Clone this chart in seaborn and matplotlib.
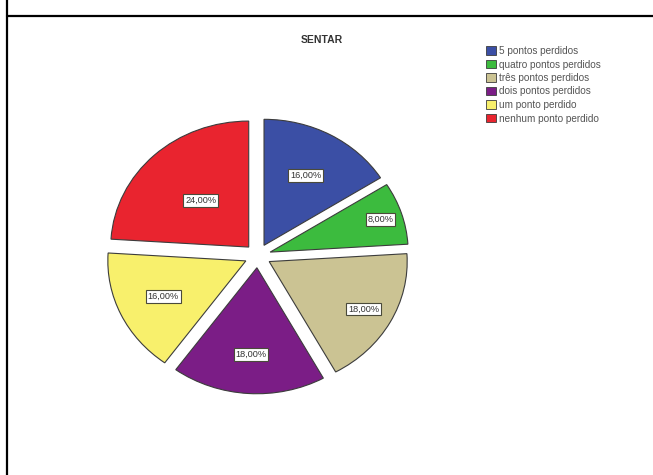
import matplotlib
matplotlib.use("Agg")
import matplotlib.pyplot as plt
import seaborn as sns
import numpy as np
from matplotlib.patches import Patch
from matplotlib.lines import Line2D

categories = ["5 pontos perdidos", "quatro pontos perdidos", "três pontos perdidos",
              "dois pontos perdidos", "um ponto perdido", "nenhum ponto perdido"]
values = [16, 8, 18, 18, 16, 24]
title = "SENTAR"

colors = sns.color_palette(["#3b4fa5", "#3cbb3e", "#cbc393", "#7b1d86", "#f8f06c", "#e9242f"])

sns.set_theme(style="white")
plt.rcParams['font.family'] = ['Liberation Sans', 'DejaVu Sans']

W, H = 653, 475
fig = plt.figure(figsize=(W / 100, H / 100), dpi=100)
fig.patch.set_facecolor("white")

# pie axes (slightly elliptical like the reference)
cx, cy = 257.7, 255.8   # px from top-left
rx, ry = 138, 126
aw, ah = rx * 2.5, ry * 2.5
ax = fig.add_axes([(cx - aw / 2) / W, 1 - (cy + ah / 2) / H, aw / W, ah / H])

explode = [0.095] * len(values)
wedges, texts = ax.pie(values, colors=colors, startangle=90, counterclock=False,
                       explode=explode,
                       wedgeprops=dict(edgecolor="#3c3c3c", linewidth=0.8))
ax.set_aspect("auto")
ax.set_xlim(-1.25, 1.25)
ax.set_ylim(-1.25, 1.25)
ax.axis("off")

label_r = [0.63, 0.84, 0.78, 0.69, 0.66, 0.51]
for w, v, r in zip(wedges, values, label_r):
    th = np.deg2rad((w.theta1 + w.theta2) / 2)
    x0, y0 = w.center
    ax.text(x0 + r * np.cos(th), y0 + r * np.sin(th),
            f"{v:.2f}%".replace(".", ","), ha="center", va="center",
            fontsize=6.6, color="#333333",
            bbox=dict(boxstyle="square,pad=0.2", facecolor="white",
                      edgecolor="#4a4a3a", linewidth=0.8))

fig.text(322 / W, 1 - 40 / H, title, ha="center", va="center",
         fontsize=7.5, fontweight="bold", color="#333333")

handles = [Patch(facecolor=c, edgecolor="#3c3c3c", linewidth=0.6) for c in colors]
fig.legend(handles, categories, loc="upper left",
           bbox_to_anchor=(486 / W, 1 - 46 / H), frameon=False,
           fontsize=7.2, handlelength=1.0, handleheight=0.9,
           labelspacing=0.35, handletextpad=0.25, borderaxespad=0, borderpad=0,
           labelcolor="#555555")

# frame lines
fig.add_artist(Line2D([7 / W, 7 / W], [0, 1], transform=fig.transFigure,
                      color="black", linewidth=1.6))
fig.add_artist(Line2D([7 / W, 1], [1 - 16 / H, 1 - 16 / H], transform=fig.transFigure,
                      color="black", linewidth=1.6))

fig.savefig("out.png", dpi=100, facecolor="white")
